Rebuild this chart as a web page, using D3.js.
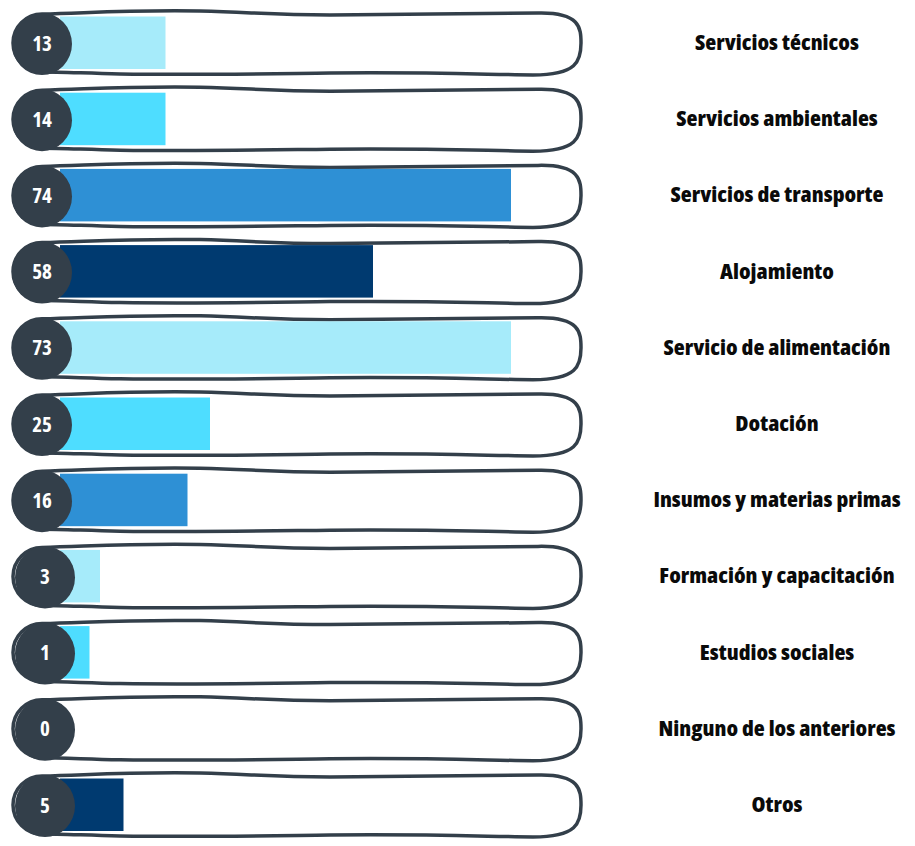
<!DOCTYPE html>
<html>
<head>
<meta charset="utf-8">
<script src="https://cdn.jsdelivr.net/npm/d3@7"></script>
<style>
  html, body { margin: 0; padding: 0; background: #fff; }
  svg { display: block; }
</style>
</head>
<body>
<script>
// ---- data ----
const categories = [
  "Servicios técnicos",
  "Servicios ambientales",
  "Servicios de transporte",
  "Alojamiento",
  "Servicio de alimentación",
  "Dotación",
  "Insumos y materias primas",
  "Formación y capacitación",
  "Estudios sociales",
  "Ninguno de los anteriores",
  "Otros"
];
const values = [13, 14, 74, 58, 73, 25, 16, 3, 1, 0, 5];
// drawn bar length, as % of the track
const barShare = [21.1, 21.1, 90.2, 62.6, 90.2, 30, 25.5, 8, 5.9, 0, 12.7];
const barColors = ["#A6EBFA", "#4EDDFF", "#2E90D5", "#003A70", "#A6EBFA", "#4EDDFF",
                   "#2E90D5", "#A6EBFA", "#4EDDFF", "#2E90D5", "#003A70"];

// ---- layout ----
const W = 915, H = 846;
const dark = "#333F4A";
const font = "'Open Sans', Roboto, sans-serif";

const svg = d3.select("body").append("svg")
  .attr("width", W).attr("height", H);

const y = d3.scalePoint()
  .domain(categories)
  .range([43, 805]);

const x = d3.scaleLinear()
  .domain([0, 100])
  .range([60, 560]);

const outline =
  "M 42,-29 C 90,-30 120,-33 200,-32 C 250,-31 270,-28 330,-28 L 538,-30 " +
  "C 580,-31 581,-15 581,0 C 581,18 577,32 533,32 C 470,31 420,29 330,30 " +
  "C 250,31 200,32 120,31 C 80,30 60,29 42,29 A 29,29 0 0 1 42,-29 Z";

const rows = svg.selectAll("g.row")
  .data(categories.map((c, i) => ({ c, v: values[i], s: barShare[i], col: barColors[i], i })))
  .join("g")
  .attr("class", "row")
  .attr("transform", d => `translate(0,${y(d.c)})`);

rows.append("path")
  .attr("d", outline)
  .attr("fill", "#fff")
  .attr("stroke", dark)
  .attr("stroke-width", 3.5)
  .attr("stroke-linejoin", "round");

rows.append("rect")
  .attr("x", x(0))
  .attr("y", -26.5)
  .attr("height", 52.5)
  .attr("width", d => x(d.s) - x(0))
  .attr("fill", d => d.col);

const cxOf = d => d.i >= 7 ? 45 : 42;

rows.append("ellipse")
  .attr("cx", cxOf)
  .attr("cy", 1)
  .attr("rx", 30)
  .attr("ry", 31)
  .attr("fill", dark);

const nums = rows.append("g")
  .attr("transform", d => `translate(${cxOf(d)},7.5)`)
  .append("text")
  .attr("text-anchor", "middle")
  .attr("fill", "#fff")
  .attr("font-family", font)
  .attr("font-weight", 700)
  .attr("font-size", 21)
  .style("font-stretch", "semi-condensed")
  .text(d => d.v);

const labels = rows.append("g")
  .attr("transform", "translate(777,7)")
  .append("text")
  .attr("text-anchor", "middle")
  .attr("fill", "#0a0a0a")
  .attr("font-family", font)
  .attr("font-weight", 800)
  .attr("font-size", 20.5)
  .style("font-stretch", "semi-condensed")
  .text(d => d.c);

// fit the label face to the width of the original narrow typeface
const w0 = labels.node().getComputedTextLength();
const k = Math.max(0.8, Math.min(1.12, 164 / w0));
labels.attr("transform", `scale(${k},1)`);
</script>
</body>
</html>
